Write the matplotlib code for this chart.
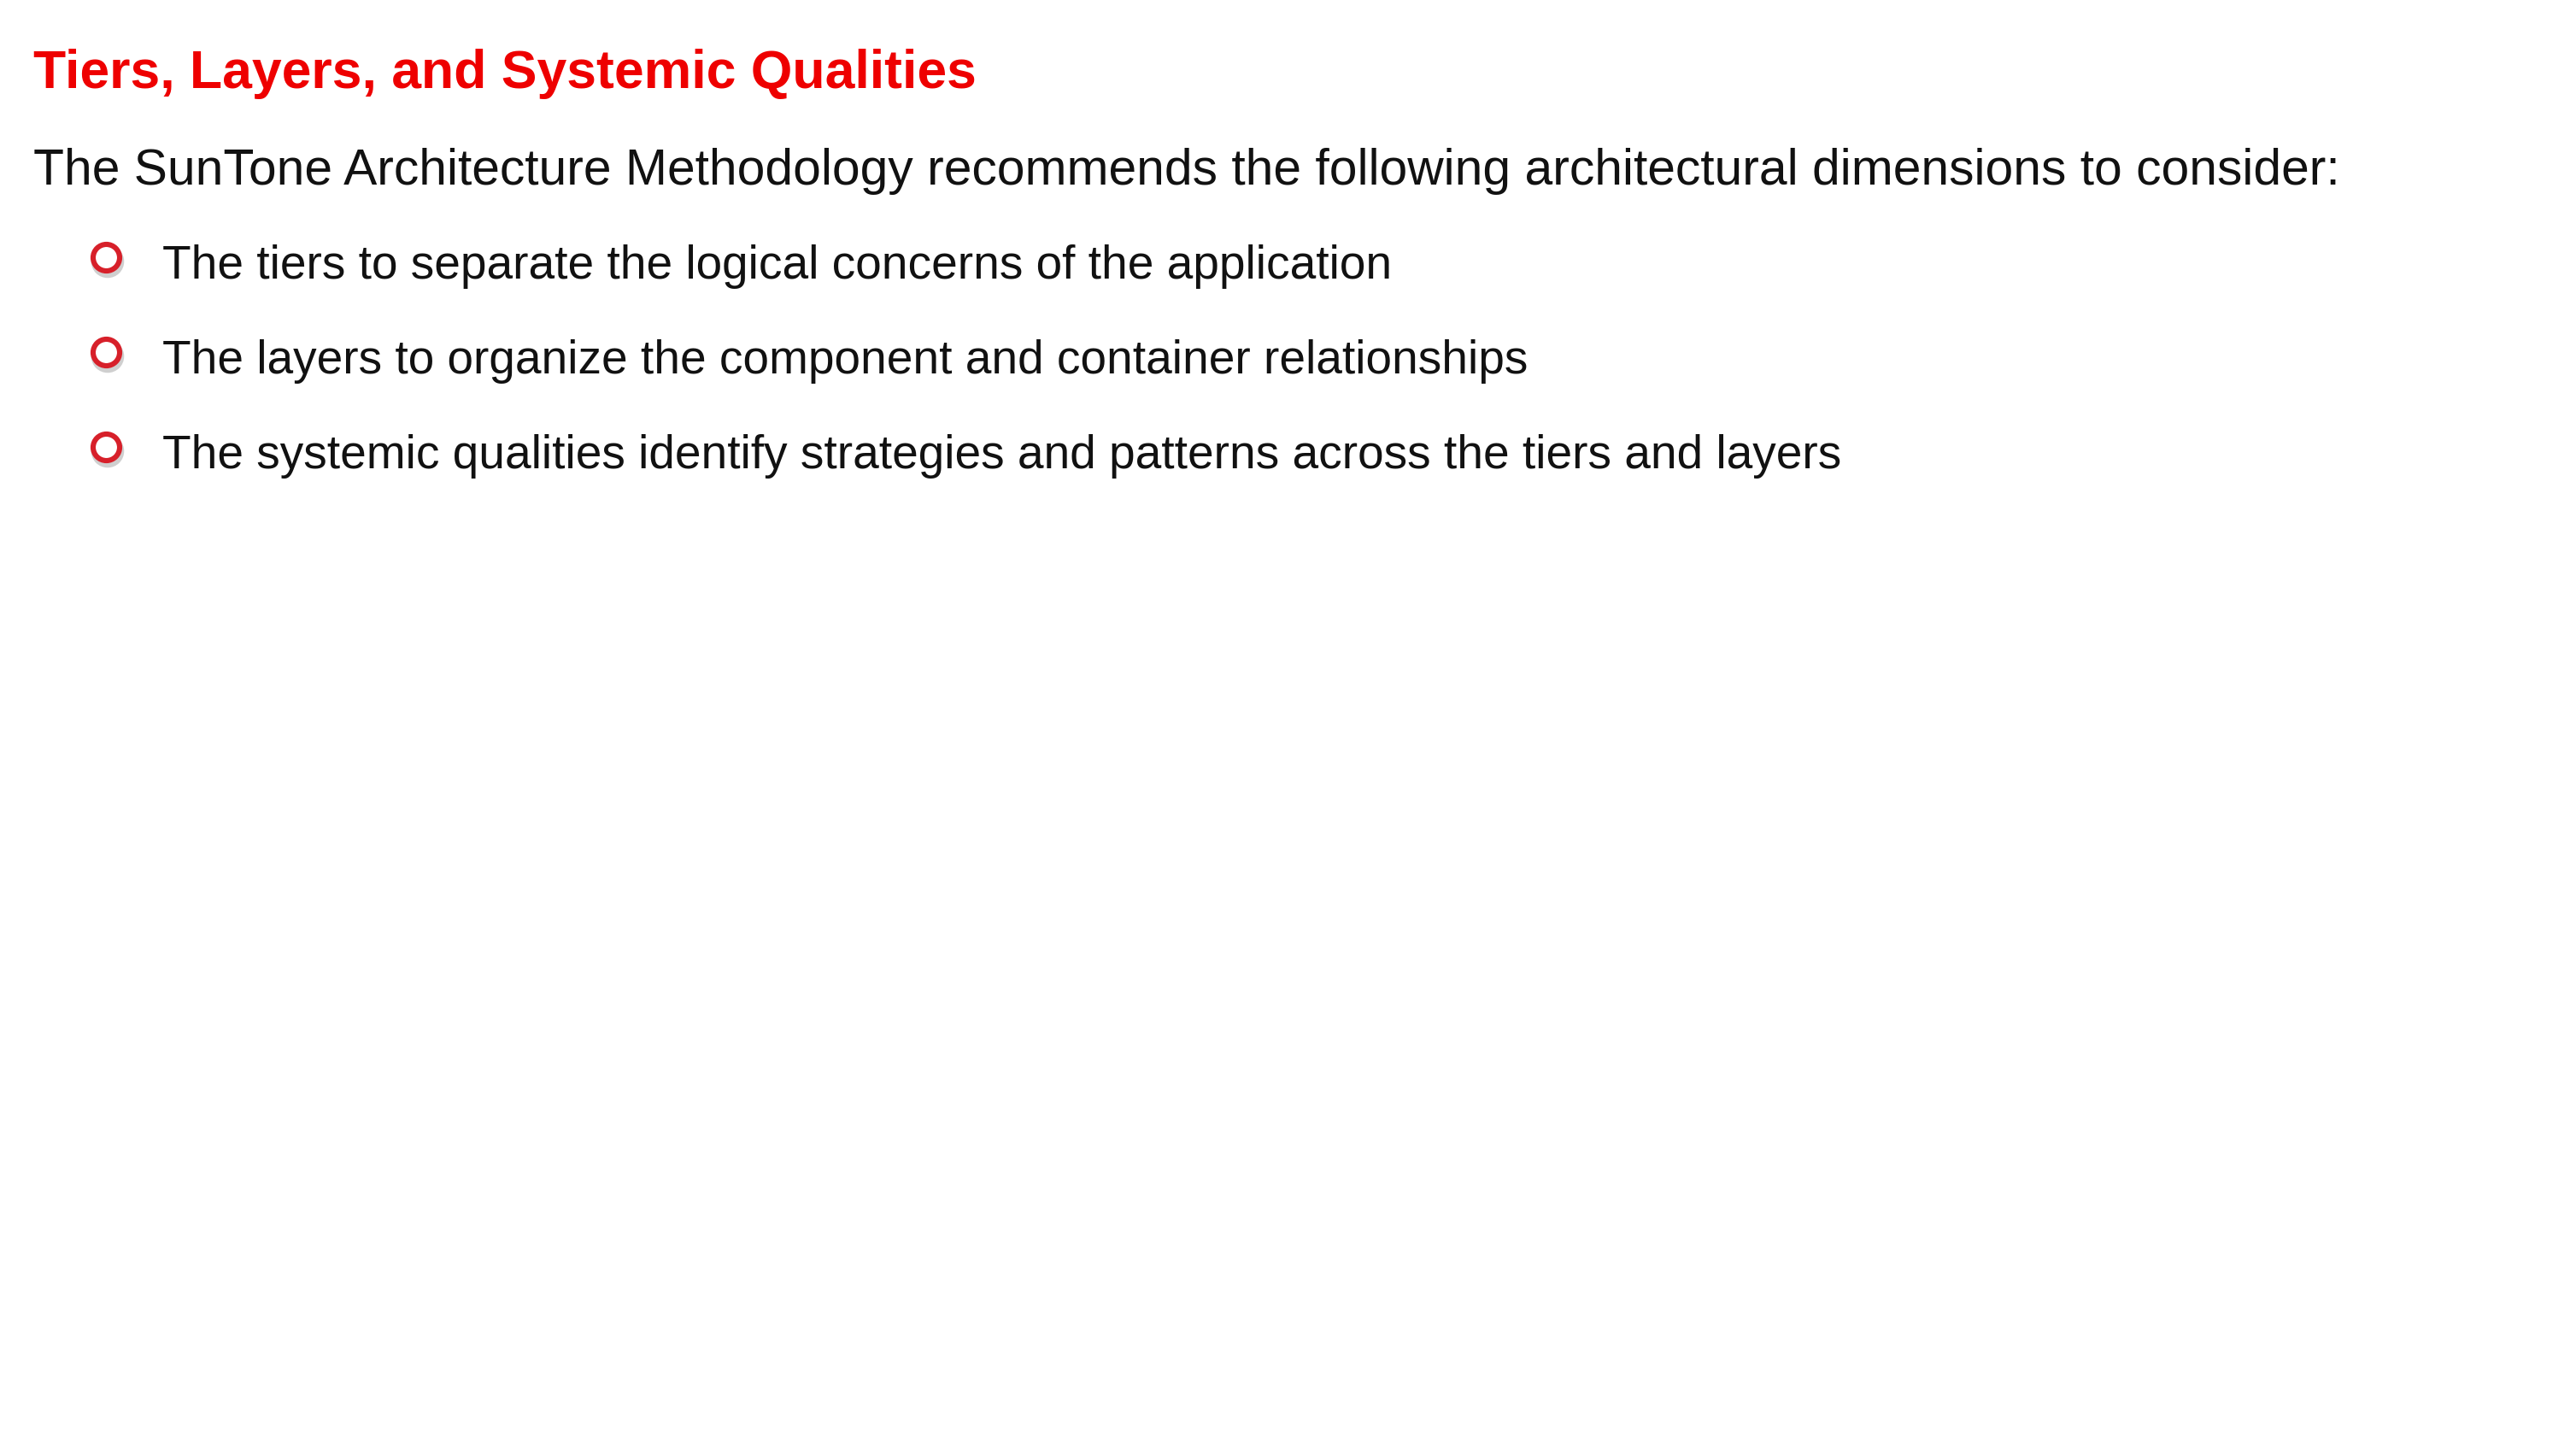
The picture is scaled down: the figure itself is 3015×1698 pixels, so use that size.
import matplotlib
matplotlib.use("Agg")
import matplotlib.pyplot as plt

title = "Tiers, Layers, and Systemic Qualities"
intro = ("The SunTone Architecture Methodology recommends the following "
         "architectural dimensions to consider:")
bullets = [
    "The tiers to separate the logical concerns of the application",
    "The layers to organize the component and container relationships",
    "The systemic qualities identify strategies and patterns across the tiers and layers",
]

W, H = 3015, 1698
fig = plt.figure(figsize=(W / 100, H / 100), dpi=100)
ax = fig.add_axes([0, 0, 1, 1])
ax.set_xlim(0, W)
ax.set_ylim(H, 0)
ax.axis("off")

font = ["Liberation Sans", "DejaVu Sans"]

ax.text(39, 103, title, family=font, fontsize=45, fontweight="bold",
        color="#ee0000", va="baseline", ha="left")
ax.text(39, 216, intro, family=font, fontsize=42.3, color="#111111",
        va="baseline", ha="left")

baselines = [326, 437, 548]
for b, txt in zip(baselines, bullets):
    ax.text(190, b, txt, family=font, fontsize=39.6, color="#111111",
            va="baseline", ha="left")
    cy = b - 25
    # shadow
    ax.scatter([126], [cy + 5], s=540, marker="o", facecolors="none",
               edgecolors="#b0b0b0", linewidths=4.5, alpha=0.6, zorder=2)
    ax.scatter([124], [cy], s=500, marker="o", facecolors="white",
               edgecolors="#d7202a", linewidths=4.4, zorder=3)

fig.savefig("out.png", dpi=100, facecolor="white")
